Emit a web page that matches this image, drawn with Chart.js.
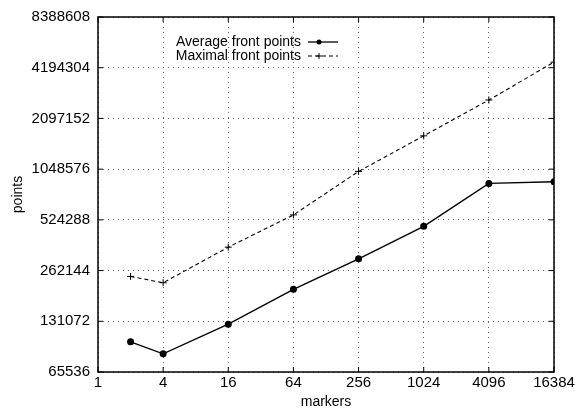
<!DOCTYPE html>
<html>
<head>
<meta charset="utf-8">
<script src="https://cdn.jsdelivr.net/npm/chart.js@4"></script>
<style>
  html, body { margin: 0; padding: 0; background: #fff; }
  #wrap { width: 584px; height: 411px; }
</style>
</head>
<body>
<div id="wrap"><canvas id="c" width="584" height="411"></canvas></div>
<script>
// markers on the x axis
const markers = [2, 4, 16, 64, 256, 1024, 4096, 16384];
// series values
const avgPoints = [99000, 84000, 126000, 203000, 308000, 480000, 863000, 882000];
const maxPoints = [242000, 222000, 361000, 561000, 1016000, 1653000, 2698000, 4528000];
// tick labels
const xTicks = [1, 4, 16, 64, 256, 1024, 4096, 16384];
const yTicks = [65536, 131072, 262144, 524288, 1048576, 2097152, 4194304, 8388608];

const FONT = '"Liberation Sans", Arial, Helvetica, sans-serif';

// frame, inward tick marks and legend
const framePlugin = {
  id: 'frame',
  afterDraw(chart) {
    const { ctx, chartArea: a, scales } = chart;
    ctx.save();
    ctx.strokeStyle = '#000';
    ctx.lineWidth = 1.5;
    ctx.strokeRect(a.left, a.top, a.right - a.left, a.bottom - a.top);

    ctx.lineWidth = 1;
    xTicks.forEach(v => {
      const x = scales.x.getPixelForValue(v);
      ctx.beginPath();
      ctx.moveTo(x, a.bottom); ctx.lineTo(x, a.bottom - 5);
      ctx.moveTo(x, a.top); ctx.lineTo(x, a.top + 5);
      ctx.stroke();
    });
    yTicks.forEach(v => {
      const y = scales.y.getPixelForValue(v);
      ctx.beginPath();
      ctx.moveTo(a.left, y); ctx.lineTo(a.left + 5, y);
      ctx.moveTo(a.right, y); ctx.lineTo(a.right - 5, y);
      ctx.stroke();
    });

    // legend
    ctx.font = '14px ' + FONT;
    ctx.fillStyle = '#000';
    ctx.textAlign = 'right';
    ctx.textBaseline = 'middle';
    const rows = [
      { label: 'Average front points', dash: [], y: 42 },
      { label: 'Maximal front points', dash: [4, 3], y: 56 }
    ];
    rows.forEach((r, i) => {
      ctx.fillText(r.label, 301, r.y);
      ctx.setLineDash(r.dash);
      ctx.lineWidth = i === 0 ? 1.3 : 1;
      ctx.beginPath();
      ctx.moveTo(308, r.y); ctx.lineTo(338, r.y);
      ctx.stroke();
      ctx.setLineDash([]);
      if (i === 0) {
        ctx.beginPath(); ctx.arc(319, r.y, 2.5, 0, Math.PI * 2); ctx.fill();
      } else {
        ctx.beginPath();
        ctx.moveTo(316, r.y); ctx.lineTo(322, r.y);
        ctx.moveTo(319, r.y - 3); ctx.lineTo(319, r.y + 3);
        ctx.stroke();
      }
    });
    ctx.restore();
  }
};

new Chart(document.getElementById('c'), {
  type: 'line',
  data: {
    datasets: [
      {
        label: 'Average front points',
        data: markers.map((m, i) => ({ x: m, y: avgPoints[i] })),
        borderColor: '#000',
        backgroundColor: '#000',
        borderWidth: 1.4,
        pointStyle: 'circle',
        pointRadius: 2.8,
        tension: 0
      },
      {
        label: 'Maximal front points',
        data: markers.map((m, i) => ({ x: m, y: maxPoints[i] })),
        borderColor: '#000',
        backgroundColor: '#000',
        borderWidth: 1.1,
        borderDash: [4, 3],
        pointStyle: 'cross',
        pointRadius: 3.5,
        pointBorderWidth: 1,
        tension: 0
      }
    ]
  },
  options: {
    responsive: false,
    animation: false,
    layout: { padding: { top: 16, right: 30, left: 0, bottom: 0 } },
    plugins: { legend: { display: false }, tooltip: { enabled: false } },
    scales: {
      x: {
        type: 'logarithmic',
        min: 1,
        max: 16384,
        afterBuildTicks: axis => { axis.ticks = xTicks.map(v => ({ value: v })); },
        afterFit: axis => { axis.height = 39; },
        ticks: {
          autoSkip: false,
          maxRotation: 0,
          padding: 2,
          color: '#000',
          font: { family: FONT, size: 15 },
          callback: v => String(v)
        },
        grid: { color: '#666', lineWidth: 1, drawTicks: false },
        border: { display: false, dash: [1, 4] },
        title: {
          display: true,
          text: 'markers',
          color: '#000',
          font: { family: FONT, size: 14 },
          padding: { top: -3, bottom: 0 }
        }
      },
      y: {
        type: 'logarithmic',
        min: 65536,
        max: 8388608,
        afterBuildTicks: axis => { axis.ticks = yTicks.map(v => ({ value: v })); },
        afterFit: axis => { axis.width = 98; },
        ticks: {
          autoSkip: false,
          padding: 8,
          color: '#000',
          font: { family: FONT, size: 15 },
          callback: v => String(v)
        },
        grid: { color: '#666', lineWidth: 1, drawTicks: false },
        border: { display: false, dash: [1, 4] },
        title: {
          display: true,
          text: 'points',
          color: '#000',
          font: { family: FONT, size: 14 },
          padding: { top: 10, bottom: 0 }
        }
      }
    }
  },
  plugins: [framePlugin]
});
</script>
</body>
</html>
